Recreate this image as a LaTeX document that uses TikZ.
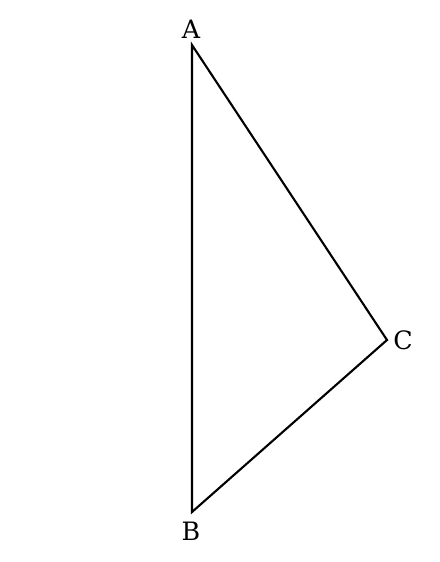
\documentclass[tikz,border=0pt]{standalone}
\usepackage{fontspec}
\setmainfont{DejaVu Serif}
\usetikzlibrary{positioning}
\tikzset{
    vertex/.style={
        inner sep=0pt,
        font=\fontsize{18}{20}\selectfont
    }
}

\begin{document}
\begin{tikzpicture}[x=0.025cm,y=-0.025cm]

\useasboundingbox (0,0) rectangle (440,562);

\coordinate (A) at (192,45);
\coordinate (B) at (192,512);
\coordinate (C) at (387,340);

\draw[line width=1.5pt,line join=miter] (A) -- (C) -- (B) -- cycle;

\node[vertex] (labelA) at (191,29) {A};
\node[vertex] (labelB) at (191,531) {B};
\node[vertex] (labelC) at (403,340) {C};

\end{tikzpicture}
\end{document}
